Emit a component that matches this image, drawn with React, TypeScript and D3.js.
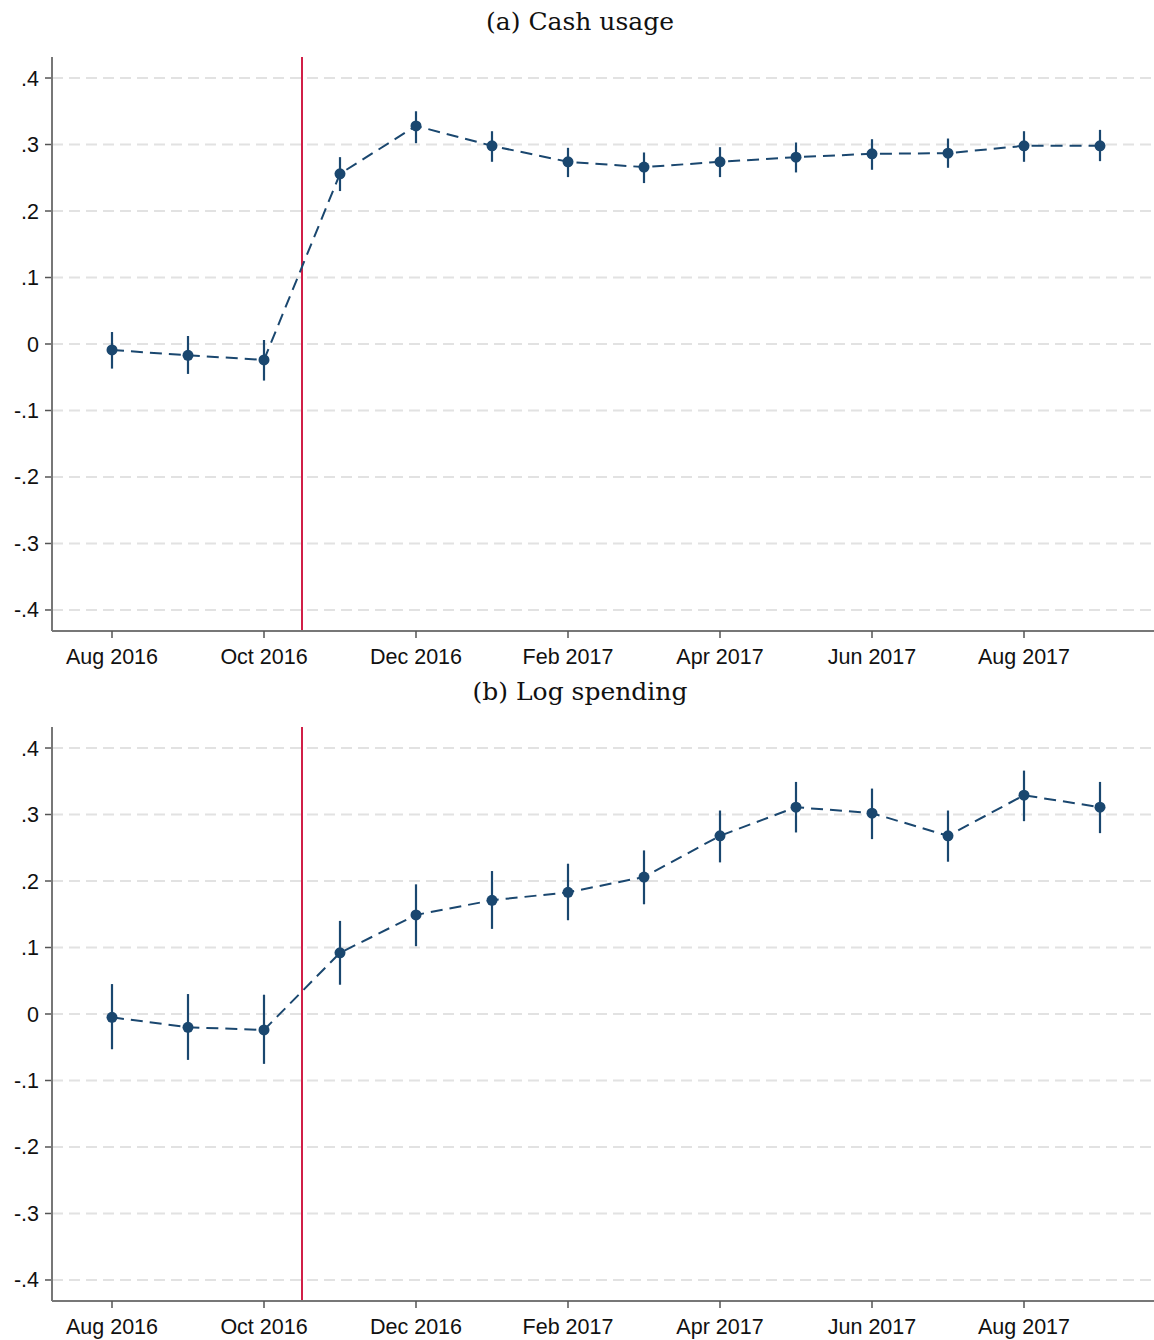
import React from "react";
import * as d3 from "d3";

const months = ["Aug 2016","Sep 2016","Oct 2016","Nov 2016","Dec 2016","Jan 2017","Feb 2017","Mar 2017","Apr 2017","May 2017","Jun 2017","Jul 2017","Aug 2017","Sep 2017"];
const tickMonths = ["Aug 2016","Oct 2016","Dec 2016","Feb 2017","Apr 2017","Jun 2017","Aug 2017"];
const yTicks = [0.4,0.3,0.2,0.1,0,-0.1,-0.2,-0.3,-0.4];
const yTickLabels = [".4",".3",".2",".1","0","-.1","-.2","-.3","-.4"];
const eventMonth = 2.5;

const cashEst = [-0.009,-0.017,-0.024,0.256,0.328,0.298,0.274,0.266,0.274,0.281,0.286,0.287,0.298,0.298];
const cashLo = [-0.037,-0.045,-0.055,0.230,0.302,0.274,0.251,0.242,0.251,0.258,0.262,0.265,0.274,0.275];
const cashHi = [0.018,0.012,0.006,0.281,0.350,0.320,0.295,0.288,0.296,0.303,0.308,0.309,0.320,0.322];

const spendEst = [-0.005,-0.020,-0.024,0.092,0.149,0.171,0.183,0.206,0.268,0.311,0.302,0.268,0.329,0.311];
const spendLo = [-0.053,-0.069,-0.075,0.044,0.102,0.128,0.141,0.165,0.228,0.273,0.263,0.229,0.290,0.272];
const spendHi = [0.045,0.030,0.029,0.140,0.195,0.215,0.226,0.246,0.306,0.349,0.339,0.306,0.366,0.349];

const NAVY = "#1a476f";
const RED = "#d11f47";

function Panel({ title, top, est, lo, hi }: { title: string; top: number; est: number[]; lo: number[]; hi: number[] }) {
  const left = 52, right = 1154;
  const plotTop = top + 57, plotBottom = top + 631;
  const x = d3.scaleLinear().domain([(left - 112) / 76, (right - 112) / 76]).range([left, right]);
  const y = d3.scaleLinear().domain([-0.4316, 0.4316]).range([plotBottom, plotTop]);
  const idx = months.map((_, i) => i);
  const line = d3.line<number>().x(i => x(i)).y(i => y(est[i]));
  return (
    <g>
      <text x={580} y={top + 30} textAnchor="middle" fontFamily="'DejaVu Serif', 'Liberation Serif', serif" fontSize={25} fill="#111">{title}</text>
      {yTicks.map((t, k) => (
        <g key={k}>
          <line x1={left} x2={right} y1={y(t)} y2={y(t)} stroke="#e2e2e2" strokeWidth={2} strokeDasharray="11,6" />
          <line x1={left - 7} x2={left} y1={y(t)} y2={y(t)} stroke="#555" strokeWidth={1.5} />
          <text x={left - 13} y={y(t) + 7.5} textAnchor="end" fontFamily="'Liberation Sans', Arial, sans-serif" fontSize={21.5} fill="#111">{yTickLabels[k]}</text>
        </g>
      ))}
      <line x1={x(eventMonth)} x2={x(eventMonth)} y1={plotTop} y2={plotBottom} stroke={RED} strokeWidth={2} />
      <line x1={left} x2={left} y1={plotTop} y2={plotBottom} stroke="#777" strokeWidth={2} />
      <line x1={left} x2={right} y1={plotBottom} y2={plotBottom} stroke="#777" strokeWidth={2} />
      {tickMonths.map((m) => {
        const i = months.indexOf(m);
        return (
          <g key={m}>
            <line x1={x(i)} x2={x(i)} y1={plotBottom} y2={plotBottom + 7} stroke="#555" strokeWidth={1.5} />
            <text x={x(i)} y={plotBottom + 33} textAnchor="middle" fontFamily="'Liberation Sans', Arial, sans-serif" fontSize={21.5} fill="#111">{m}</text>
          </g>
        );
      })}
      <path d={line(idx) || ""} fill="none" stroke={NAVY} strokeWidth={2} strokeDasharray="12,7" />
      {idx.map(i => (
        <g key={i}>
          <line x1={x(i)} x2={x(i)} y1={y(lo[i])} y2={y(hi[i])} stroke={NAVY} strokeWidth={2.2} />
          <circle cx={x(i)} cy={y(est[i])} r={5.5} fill={NAVY} />
        </g>
      ))}
    </g>
  );
}

export default function App() {
  return (
    <svg width={1154} height={1340} style={{ position: "absolute", left: 0, top: 0, background: "#fff" }}>
      <rect width={1154} height={1340} fill="#fff" />
      <Panel title="(a) Cash usage" top={0} est={cashEst} lo={cashLo} hi={cashHi} />
      <Panel title="(b) Log spending" top={670} est={spendEst} lo={spendLo} hi={spendHi} />
    </svg>
  );
}
